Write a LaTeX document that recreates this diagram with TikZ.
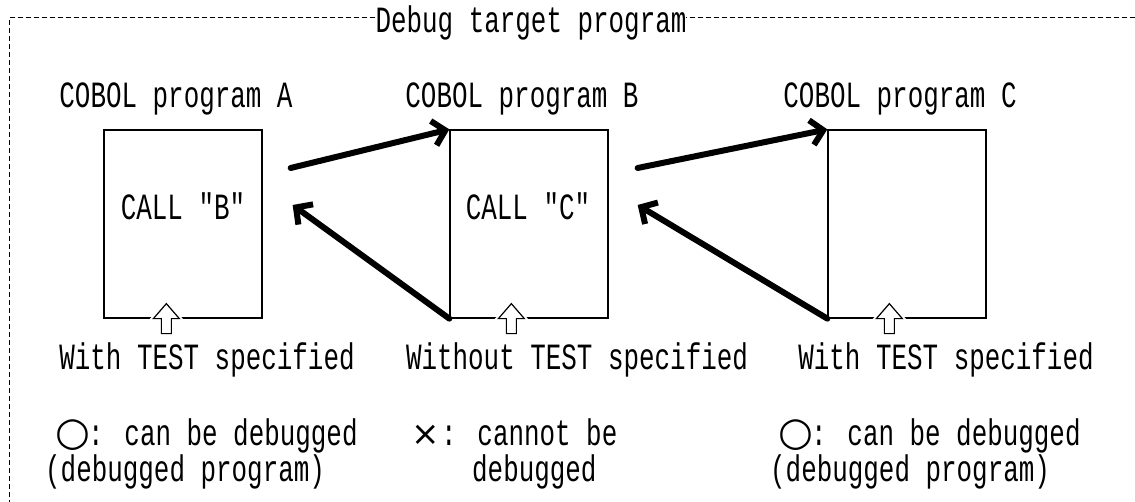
\documentclass[tikz,border=0pt]{standalone}
\usepackage{fontspec}
\newfontfamily\cobolfont[FakeStretch=0.7]{Liberation Mono}
\newfontfamily\symfont{DejaVu Sans}
\usetikzlibrary{arrows.meta,calc}

\tikzset{
  lbl/.style={font=\cobolfont\fontsize{37}{40}\selectfont, inner sep=0pt, anchor=base},
  lblw/.style={lbl, anchor=base west},
  prog/.style={draw, line width=1.3pt, minimum width=158pt, minimum height=188pt, inner sep=0pt},
  callarr/.style={line width=6pt, line cap=round, -{Straight Barb[length=12pt,width=25pt]}},
  frame/.style={line width=1.1pt, dash pattern=on 5pt off 3pt},
  hollow/.pic={
    \draw[line width=1.2pt, fill=white, preaction={draw=white, line width=5pt}]
      (-5,15) -- (-5,0) -- (-13,0) -- (0,-15) -- (13,0) -- (5,0) -- (5,15) -- cycle;
  }
}
\newcommand\widesym[2][40]{\makebox[31pt][c]{\symfont\fontsize{#1}{#1}\selectfont #2}}

\begin{document}
\begin{tikzpicture}[x=1pt,y=-1pt]
\useasboundingbox (0,0) rectangle (1135,502);
\fill[white] (0,0) rectangle (1135,502);

% dashed frame with its title
\draw[frame] (1135,17.5) -- (9.5,17.5) -- (9.5,502);
\node[lbl, fill=white] (title) at (531,33) {Debug target program};

% the three programs
\node[prog] (A) at (183,224) {};
\node[prog] (B) at (529,224) {};
\node[prog] (C) at (907,224) {};

\node[lbl] (nameA) at (176,108) {COBOL program A};
\node[lbl] (nameB) at (522,108) {COBOL program B};
\node[lbl] (nameC) at (900,108) {COBOL program C};

\node[lbl] (callB) at (183,220) {CALL "B"};
\node[lbl] (callC) at (528,220) {CALL "C"};

% TEST option markers
\pic (optA) at ($(A.south west)+(63,0)$) {hollow};
\pic (optB) at ($(B.south west)+(62,0)$) {hollow};
\pic (optC) at ($(C.south west)+(62,0)$) {hollow};

\node[lbl] (testA) at (207,370) {With TEST specified};
\node[lbl] (testB) at (577,370) {Without TEST specified};
\node[lbl] (testC) at (946,370) {With TEST specified};

% calls and returns
\coordinate (outA) at ($(A.east)+(28,-56)$);
\coordinate (backA) at ($(A.east)+(30,-19)$);
\coordinate (outB) at ($(B.east)+(29,-56)$);
\coordinate (backB) at ($(B.east)+(29,-19)$);
\draw[callarr] (outA) -- (B.north west);
\draw[callarr] (B.south west) -- (backA);
\draw[callarr] (outB) -- (C.north west);
\draw[callarr] (C.south west) -- (backB);

% debugging results
\node[lblw] (okA) at (57,445) {\widesym{○}: can be debugged};
\node[lblw] (okA2) at (45,481) {(debugged program)};
\node[lblw] (ngB) at (410,445) {\widesym[34]{×}: cannot be};
\node[lblw] (ngB2) at (472,481) {debugged};
\node[lblw] (okC) at (780,445) {\widesym{○}: can be debugged};
\node[lblw] (okC2) at (770,481) {(debugged program)};
\end{tikzpicture}
\end{document}
